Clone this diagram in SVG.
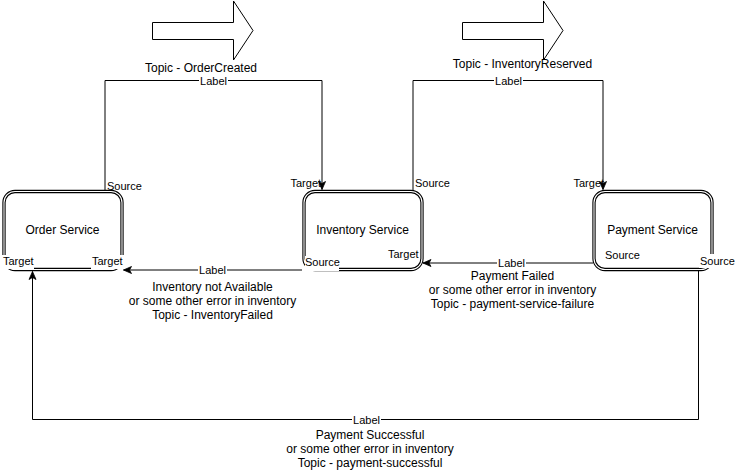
<svg xmlns="http://www.w3.org/2000/svg" width="735" height="472" viewBox="0 0 735 472">
<defs>
<style>
.t{font-family:"Liberation Sans",Arial,Helvetica,sans-serif;fill:#000}
.s12{font-size:12px}
.s11{font-size:11px}
.c{text-anchor:middle}
.bo{fill:#fff;stroke:#000;stroke-width:3.3}
.bi{fill:none;stroke:#fff;stroke-width:1.1}
.e{fill:none;stroke:#000;stroke-width:1}
.bg{fill:#fff}
.blk{fill:#fff;stroke:#000;stroke-width:1}
</style>
<marker id="arr" markerUnits="userSpaceOnUse" markerWidth="9" markerHeight="8" refX="8" refY="4" orient="auto" overflow="visible">
<path d="M0,0.5 L8,4 L0,7.5 L2,4 Z" fill="#000" stroke="#000" stroke-width="0.8"/>
</marker>
</defs>
<rect width="735" height="472" fill="#fff"/>

<g id="topic-arrow-1">
<polygon class="blk" points="152.5,22.5 233.5,22.5 233.5,1 253,30.5 233.5,60 233.5,39.5 152.5,39.5"/>
</g>
<g id="topic-arrow-2">
<polygon class="blk" points="462.5,22.5 543.5,22.5 543.5,1 563,30.5 543.5,60 543.5,39.5 462.5,39.5"/>
</g>

<g id="order-service">
<rect class="bo" x="4" y="191.5" width="118" height="78" rx="11"/>
<rect class="bi" x="4" y="191.5" width="118" height="78" rx="11"/>
<text class="t s12 c" x="62.5" y="234">Order Service</text>
</g>
<g id="inventory-service">
<rect class="bo" x="304" y="191.5" width="118" height="78" rx="11"/>
<rect class="bi" x="304" y="191.5" width="118" height="78" rx="11"/>
<text class="t s12 c" x="362.5" y="234">Inventory Service</text>
</g>
<g id="payment-service">
<rect class="bo" x="594" y="191.5" width="118" height="78" rx="11"/>
<rect class="bi" x="594" y="191.5" width="118" height="78" rx="11"/>
<text class="t s12 c" x="652.5" y="234">Payment Service</text>
</g>

<g id="connectors">
<path class="e" d="M105,190 V80.5 H322 V189.5" marker-end="url(#arr)"/>
<path class="e" d="M413,190 V80.5 H603 V189.5" marker-end="url(#arr)"/>
<path class="e" d="M302,270 H123.5" marker-end="url(#arr)"/>
<path class="e" d="M593,263 H423" marker-end="url(#arr)"/>
<path class="e" d="M698.5,270 V419.5 H32.5 V271.5" marker-end="url(#arr)"/>

<rect class="bg" x="199" y="76.5" width="29" height="10"/>
<text class="t s11 c" x="213.5" y="85">Label</text>
<rect class="bg" x="494" y="76.5" width="29" height="10"/>
<text class="t s11 c" x="508.5" y="85">Label</text>
<rect class="bg" x="198" y="264.5" width="29" height="12"/>
<text class="t s11 c" x="212.5" y="274">Label</text>
<rect class="bg" x="497" y="257.5" width="29" height="12"/>
<text class="t s11 c" x="511.5" y="267">Label</text>
<rect class="bg" x="352" y="414" width="29" height="12"/>
<text class="t s11 c" x="366.5" y="423.5">Label</text>

<text class="t s12 c" x="201" y="72">Topic - OrderCreated</text>
<text class="t s12 c" x="522.5" y="68">Topic - InventoryReserved</text>

<text class="t s12 c" x="212.5" y="291">Inventory not Available</text>
<text class="t s12 c" x="212.5" y="305">or some other error in inventory</text>
<text class="t s12 c" x="212.5" y="319">Topic - InventoryFailed</text>

<text class="t s12 c" x="512.5" y="279.5">Payment Failed</text>
<text class="t s12 c" x="512.5" y="293.5">or some other error in inventory</text>
<text class="t s12 c" x="512.5" y="307.5">Topic - payment-service-failure</text>

<text class="t s12 c" x="370" y="439">Payment Successful</text>
<text class="t s12 c" x="370" y="453">or some other error in inventory</text>
<text class="t s12 c" x="370" y="467">Topic - payment-successful</text>

<text class="t s11" x="107" y="189.5">Source</text>
<rect class="bg" x="2" y="255" width="32" height="14"/>
<text class="t s11" x="3" y="265">Target</text>
<rect class="bg" x="91" y="255" width="33" height="14"/>
<text class="t s11" x="92" y="265">Target</text>

<text class="t s11" x="290.5" y="187">Target</text>
<text class="t s11" x="415" y="187">Source</text>
<rect class="bg" x="305" y="256" width="34" height="15"/>
<text class="t s11" x="305" y="265.5">Source</text>
<text class="t s11" x="388" y="258">Target</text>

<text class="t s11" x="573.5" y="186.5">Target</text>
<text class="t s11" x="605" y="259">Source</text>
<rect class="bg" x="699" y="254" width="36" height="14"/>
<text class="t s11" x="700" y="264.5">Source</text>
</g>
</svg>
